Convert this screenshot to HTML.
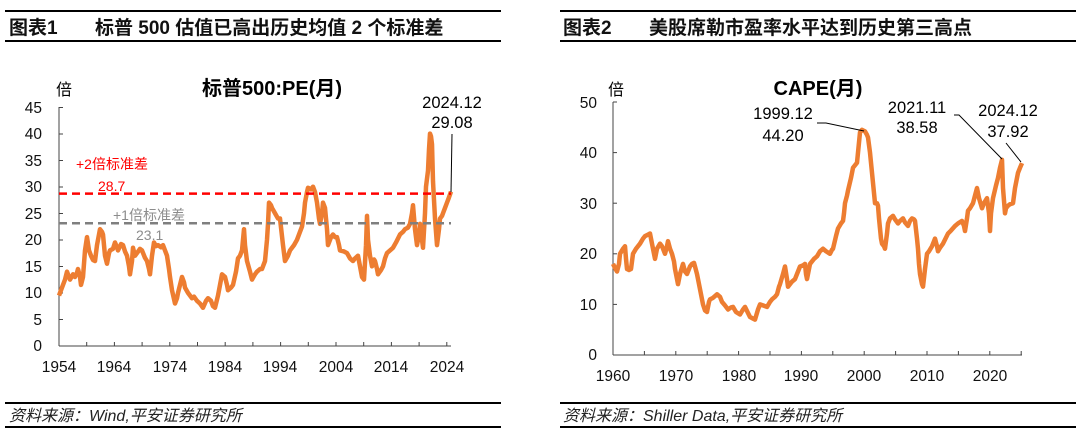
<!DOCTYPE html>
<html><head><meta charset="utf-8"><style>
html,body{margin:0;padding:0;background:#fff;}
svg{display:block;font-family:"Liberation Sans","Noto Sans CJK SC",sans-serif;}
</style></head><body>
<svg width="1080" height="436" viewBox="0 0 1080 436" xmlns="http://www.w3.org/2000/svg">
<g stroke="#000" stroke-width="2">
<line x1="5" y1="11" x2="501" y2="11"/><line x1="5" y1="41" x2="501" y2="41"/>
<line x1="560" y1="11" x2="1076" y2="11"/><line x1="560" y1="41" x2="1076" y2="41"/>
<line x1="5" y1="403" x2="501" y2="403"/><line x1="5" y1="427" x2="501" y2="427"/>
<line x1="560" y1="403" x2="1076" y2="403"/><line x1="560" y1="427" x2="1076" y2="427"/>
</g>
<g font-size="19" font-weight="bold" fill="#111">
<text x="9" y="34">图表1</text><text x="95" y="34">标普 500 估值已高出历史均值 2 个标准差</text>
<text x="563" y="34">图表2</text><text x="649" y="34">美股席勒市盈率水平达到历史第三高点</text>
</g>
<g font-size="16" font-style="italic" fill="#222">
<text x="9" y="421">资料来源：Wind,平安证券研究所</text>
<text x="563" y="421">资料来源：Shiller Data,平安证券研究所</text>
</g>

<!-- LEFT CHART -->
<text x="272" y="95" font-size="20" font-weight="bold" text-anchor="middle">标普500:PE(月)</text>
<text x="56" y="95" font-size="16">倍</text>
<g stroke="#444" stroke-width="1" fill="none">
<line x1="59" y1="107" x2="59" y2="346"/><line x1="59" y1="346" x2="451" y2="346"/>
</g>
<g font-size="15.5" text-anchor="end" fill="#111">
<text x="42" y="351">0</text><text x="42" y="325">5</text><text x="42" y="298">10</text><text x="42" y="272">15</text><text x="42" y="245">20</text><text x="42" y="219">25</text><text x="42" y="192">30</text><text x="42" y="166">35</text><text x="42" y="139">40</text><text x="42" y="113">45</text>
</g>
<g stroke="#444" stroke-width="1">
<line x1="59" y1="346" x2="63" y2="346"/><line x1="59" y1="319.5" x2="63" y2="319.5"/><line x1="59" y1="293" x2="63" y2="293"/><line x1="59" y1="266.5" x2="63" y2="266.5"/><line x1="59" y1="240" x2="63" y2="240"/><line x1="59" y1="213.5" x2="63" y2="213.5"/><line x1="59" y1="187" x2="63" y2="187"/><line x1="59" y1="160.5" x2="63" y2="160.5"/><line x1="59" y1="134" x2="63" y2="134"/><line x1="59" y1="107.5" x2="63" y2="107.5"/>
<line x1="86.7" y1="346" x2="86.7" y2="342"/><line x1="114.4" y1="346" x2="114.4" y2="342"/><line x1="142.1" y1="346" x2="142.1" y2="342"/><line x1="169.8" y1="346" x2="169.8" y2="342"/><line x1="197.5" y1="346" x2="197.5" y2="342"/><line x1="225.2" y1="346" x2="225.2" y2="342"/><line x1="252.9" y1="346" x2="252.9" y2="342"/><line x1="280.6" y1="346" x2="280.6" y2="342"/><line x1="308.3" y1="346" x2="308.3" y2="342"/><line x1="336" y1="346" x2="336" y2="342"/><line x1="363.7" y1="346" x2="363.7" y2="342"/><line x1="391.4" y1="346" x2="391.4" y2="342"/><line x1="419.1" y1="346" x2="419.1" y2="342"/><line x1="446.8" y1="346" x2="446.8" y2="342"/>
</g>
<g font-size="15.5" text-anchor="middle" fill="#111">
<text x="59" y="372">1954</text><text x="114" y="372">1964</text><text x="170" y="372">1974</text><text x="225" y="372">1984</text><text x="280" y="372">1994</text><text x="336" y="372">2004</text><text x="391" y="372">2014</text><text x="447" y="372">2024</text>
</g>
<g transform="translate(0,346) scale(1,-5.31)">
<polyline fill="none" stroke="#ED7D31" stroke-width="4.5" stroke-linejoin="round" vector-effect="non-scaling-stroke" points="59,9.5 62,11 65,12.5 67,14 69,13 70,12.5 73,13.5 75,13 77,13.8 78,14.5 80,13 81,11.5 83,13 85,18 87,20.5 89,18 91,17 93,16.2 95,16 97,19 100,22 102,21.5 103,21 105,17 107,15.5 109,17.5 110,18 113,18.3 115,19.5 117,18.6 118,18 121,19.2 123,19 125,17.8 127,17 129,15 130,13.5 132,16 133,18.5 135,17 137,17.5 140,18.3 142,18 145,16.6 147,16 149,14.5 150,13.5 152,17 154,19.5 156,18.8 158,19 161,18.6 163,19 165,18 167,17 169,14.5 170,13 172,10.5 175,8 177,9 178,10 180,11.5 182,13 184,12 185,11 188,10 192,9 194,9.3 197,8.5 200,8 203,7.2 206,8.5 208,9 211,8.5 213,7.5 215,7.2 218,9.5 220,11.5 222,13.5 225,13 227,11.5 228,10.5 231,11 233,11.5 236,14 238,16.5 240,17 242,18 244,22 245,19 247,16 250,14 252,12.5 255,13.5 257,14 260,14.5 262,14.5 264,15.5 265,16 267,20 268,23 269,27 271,26.5 272,26 275,25 278,24 280,24 283,19 285,16 288,17 290,18 294,19 297,20 300,21.5 302,22.5 304,25 305,27 307,29 308,29.8 311,29.5 313,30 315,29 317,27 319,24 320,23 322,25 323,27 325,26 327,22 328,19 331,20.5 333,21 335,20.5 337,20.5 339,19 340,18 344,17.8 347,17.5 350,16.5 353,16 355,16.5 358,17 360,15 362,13 364,12.5 366,19 367,24.5 368,20 370,17 372,15 374,16.3 375,16 377,14.5 378,13.5 381,14.3 383,15 385,16.5 387,17.5 390,18 393,18.5 396,19.5 400,21 403,21.5 405,22 408,22.3 410,23 412,25 413,26.5 415,22 417,19 419,21 420,23 422,20 423,18.5 425,25 426,30 428,33 429,37 430,40 431,39.5 432,38 433,31 435,24 437,19 439,22 440,24 442,24.5 443,25 445,26 447,27 449,28 451,29.08"/>
</g>
<line x1="59" y1="193.6" x2="451" y2="193.6" stroke="#FF0000" stroke-width="2.5" stroke-dasharray="8,5"/>
<line x1="59" y1="223.3" x2="451" y2="223.3" stroke="#7F7F7F" stroke-width="2.5" stroke-dasharray="8,5"/>
<text x="76" y="169" font-size="14" fill="#FF0000">+2倍标准差</text>
<text x="98" y="191" font-size="14" fill="#FF0000">28.7</text>
<text x="113" y="220" font-size="14" fill="#8c8c8c">+1倍标准差</text>
<text x="136" y="240" font-size="14" fill="#8c8c8c">23.1</text>
<text x="452" y="108" font-size="16.5" text-anchor="middle">2024.12</text>
<text x="452" y="128" font-size="16.5" text-anchor="middle">29.08</text>
<line x1="452" y1="134" x2="451" y2="192" stroke="#000" stroke-width="1"/>

<!-- RIGHT CHART -->
<text x="818" y="95" font-size="20" font-weight="bold" text-anchor="middle">CAPE(月)</text>
<text x="608" y="95" font-size="16">倍</text>
<g stroke="#444" stroke-width="1" fill="none">
<line x1="613" y1="102" x2="613" y2="355"/><line x1="613" y1="355" x2="1022" y2="355"/>
</g>
<g font-size="15.5" text-anchor="end" fill="#111">
<text x="597" y="360">0</text><text x="597" y="310">10</text><text x="597" y="259">20</text><text x="597" y="209">30</text><text x="597" y="158">40</text><text x="597" y="108">50</text>
</g>
<g stroke="#444" stroke-width="1">
<line x1="613" y1="355" x2="617" y2="355"/><line x1="613" y1="304.4" x2="617" y2="304.4"/><line x1="613" y1="253.8" x2="617" y2="253.8"/><line x1="613" y1="203.2" x2="617" y2="203.2"/><line x1="613" y1="152.6" x2="617" y2="152.6"/><line x1="613" y1="102" x2="617" y2="102"/>
<line x1="644.4" y1="355" x2="644.4" y2="351"/><line x1="675.8" y1="355" x2="675.8" y2="351"/><line x1="707.2" y1="355" x2="707.2" y2="351"/><line x1="738.6" y1="355" x2="738.6" y2="351"/><line x1="770" y1="355" x2="770" y2="351"/><line x1="801.4" y1="355" x2="801.4" y2="351"/><line x1="832.8" y1="355" x2="832.8" y2="351"/><line x1="864.2" y1="355" x2="864.2" y2="351"/><line x1="895.6" y1="355" x2="895.6" y2="351"/><line x1="927" y1="355" x2="927" y2="351"/><line x1="958.4" y1="355" x2="958.4" y2="351"/><line x1="989.8" y1="355" x2="989.8" y2="351"/><line x1="1021.2" y1="355" x2="1021.2" y2="351"/>
</g>
<g font-size="15.5" text-anchor="middle" fill="#111">
<text x="613" y="381">1960</text><text x="676" y="381">1970</text><text x="739" y="381">1980</text><text x="801" y="381">1990</text><text x="864" y="381">2000</text><text x="927" y="381">2010</text><text x="990" y="381">2020</text>
</g>
<g transform="translate(0,355) scale(1,-5.06)">
<polyline fill="none" stroke="#ED7D31" stroke-width="4.5" stroke-linejoin="round" vector-effect="non-scaling-stroke" points="613,18 615,17.2 617,16.5 619,18 620,20 623,21 625,21.5 626,19 627,17 629,16.8 631,17 633,20 636,21 640,22 643,23 645,23.5 648,23.8 650,24 652,22 655,19 657,21 660,22 662,21.5 665,20 667,21.5 668,22.5 670,21 672,20 674,18.5 675,17 677,15 678,14 680,16 683,18 685,16.5 687,16 690,17.5 692,18 694,18.2 695,17.5 697,16 698,15 700,13 703,10 705,8.8 707,8.5 709,10.5 710,11 713,11.3 717,12 720,11.5 722,10.5 725,9.8 728,9 731,9.4 733,9.5 736,8.5 740,8 743,9 745,9.5 748,8.3 750,7.5 753,7.2 755,7 758,9 760,10 763,9.8 767,9.5 770,10.5 772,11 775,11.5 777,12 779,13.5 780,14 783,16 785,17.5 787,15 788,13.5 792,14.5 795,15 798,16.5 800,17.5 803,17.7 805,18 806,16 807,15 809,17 810,18 814,19 817,19.5 820,20.5 823,21 826,20.5 830,20 832,20.8 833,21 836,23.5 838,25 841,26 843,26.5 844,28 845,30 847,31.5 848,32.5 851,35 853,37 855,37.5 857,38 858,40 860,44 862,44.5 865,44.2 867,43.5 868,43 870,40 872,36 874,32 875,30 877,30 878,29.5 879,27 880,25 881,23 882,22 884,21.5 885,21 887,24 888,26 890,27 893,27.5 895,26.8 898,26 900,26.5 903,27 905,26.2 908,25.5 910,26.5 912,27 914,26.8 915,26.5 917,23 918,21 919,18 920,16 922,14 923,13.5 925,17 927,20 929,20.5 932,21.5 934,22.5 935,23 937,21.5 938,20.5 940,21.2 943,22 945,22.8 948,24 951,24.6 955,25.5 958,26 962,26.5 964,25.5 965,24.5 967,27 968,28.5 970,29 973,30 975,31.5 977,33 979,31 982,29 984,30 987,31 989,28 990,24.5 991,28 993,31 996,33.5 998,35 1000,37 1002,38.58 1003,33 1005,28 1006,29 1008,29.5 1010,29.8 1013,30 1015,33 1018,36 1020,37 1022,37.92"/>
</g>
<text x="783" y="119" font-size="16.5" text-anchor="middle">1999.12</text>
<text x="783" y="141" font-size="16.5" text-anchor="middle">44.20</text>
<polyline points="817,123 826,123 864,131" fill="none" stroke="#000" stroke-width="1"/>
<text x="917" y="113" font-size="16.5" text-anchor="middle">2021.11</text>
<text x="917" y="133" font-size="16.5" text-anchor="middle">38.58</text>
<polyline points="954,115 959,115 1002,159" fill="none" stroke="#000" stroke-width="1"/>
<text x="1008" y="116" font-size="16.5" text-anchor="middle">2024.12</text>
<text x="1008" y="137" font-size="16.5" text-anchor="middle">37.92</text>
<line x1="1006" y1="143" x2="1021" y2="162" stroke="#000" stroke-width="1"/>
</svg>
</body></html>
